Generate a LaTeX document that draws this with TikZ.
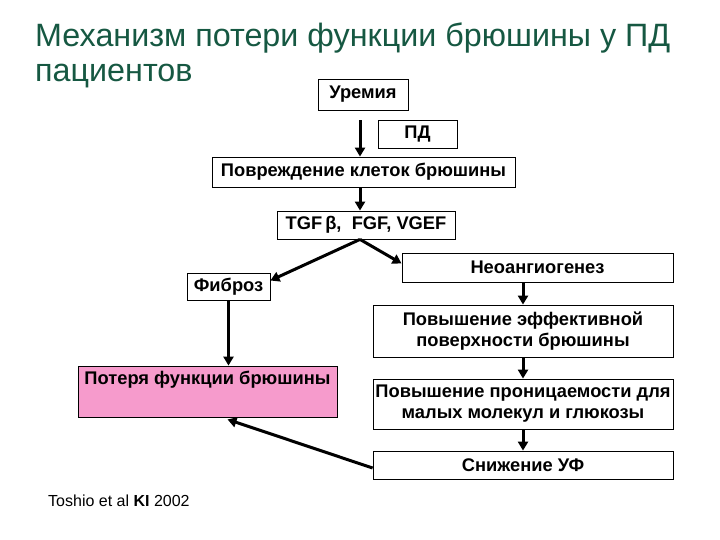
\documentclass[tikz,border=0pt]{standalone}
\usepackage{fontspec}
\setmainfont{Liberation Sans}
\usetikzlibrary{arrows.meta}
\definecolor{titlegreen}{RGB}{22,88,66}
\definecolor{losspink}{RGB}{246,155,204}
\newcommand{\boxfont}{\bfseries\fontsize{18.3}{21}\selectfont}
\tikzset{
  box/.style={draw=black, line width=0.8pt, fill=white, inner sep=0pt, align=center, font=\boxfont},
  arr/.style={line width=3pt, -{Triangle[length=9pt,width=10pt]}}
}

\begin{document}
\begin{tikzpicture}[x=1pt,y=-1pt]
 \useasboundingbox (0,0) rectangle (720,540);

 \node[anchor=base west, inner sep=0pt, text=titlegreen, font=\fontsize{32.3}{36}\selectfont] (title1) at (35,47) {Механизм потери функции брюшины у ПД};
 \node[anchor=base west, inner sep=0pt, text=titlegreen, font=\fontsize{32.3}{36}\selectfont] (title2) at (35,82) {пациентов};

 \node[box, minimum width=90, minimum height=31] (urem) at (363,94.5) {Уремия};
 \node[box, minimum width=79, minimum height=28] (pd) at (417.5,134) {ПД};
 \node[box, minimum width=303, minimum height=30] (damage) at (363.5,172) {Повреждение клеток брюшины};
 \node[box, minimum width=178, minimum height=28] (tgf) at (366,225) {TGF\,β,\ \ FGF, VGEF};
 \node[box, minimum width=83, minimum height=27] (fibr) at (228.5,286.5) {Фиброз};
 \node[box, minimum width=271, minimum height=29] (neo) at (537.5,267.5) {Неоангиогенез};
 \node[box, minimum width=300, minimum height=52] (surf) at (523,331) {Повышение эффективной\\поверхности брюшины};
 \node[box, minimum width=300, minimum height=50] (perm) at (523,404) {Повышение проницаемости для\\малых молекул и глюкозы};
 \node[box, minimum width=300, minimum height=28] (uf) at (523,465) {Снижение УФ};
 \node[box, fill=losspink, minimum width=259, minimum height=51] (loss) at (207.5,391.5) {Потеря функции брюшины\\ \strut};

 \draw[arr] ([xshift=-3pt,yshift=-10pt]urem.south) -- ([xshift=-3pt]urem.south |- damage.north);
 \draw[arr] ([xshift=-3.5pt]damage.south) -- ([xshift=-3.5pt]damage.south |- tgf.north);
 \draw[arr] ([xshift=-6pt]tgf.south) -- ([yshift=6pt]fibr.east);
 \draw[arr] ([xshift=-6pt]tgf.south) -- ([yshift=4pt]neo.west);
 \draw[arr] (surf.north |- neo.south) -- (surf.north);
 \draw[arr] (surf.south) -- (perm.north);
 \draw[arr] (perm.south) -- (uf.north);
 \draw[arr] (fibr.south) -- (fibr.south |- loss.north);
 \draw[arr] ([yshift=-3pt]uf.west) -- ([xshift=20pt,yshift=-2pt]loss.south);

 \node[anchor=west, inner sep=0pt, font=\fontsize{16}{18}\selectfont] (cite) at (48,501) {Toshio et al \textbf{KI} 2002};
\end{tikzpicture}
\end{document}
